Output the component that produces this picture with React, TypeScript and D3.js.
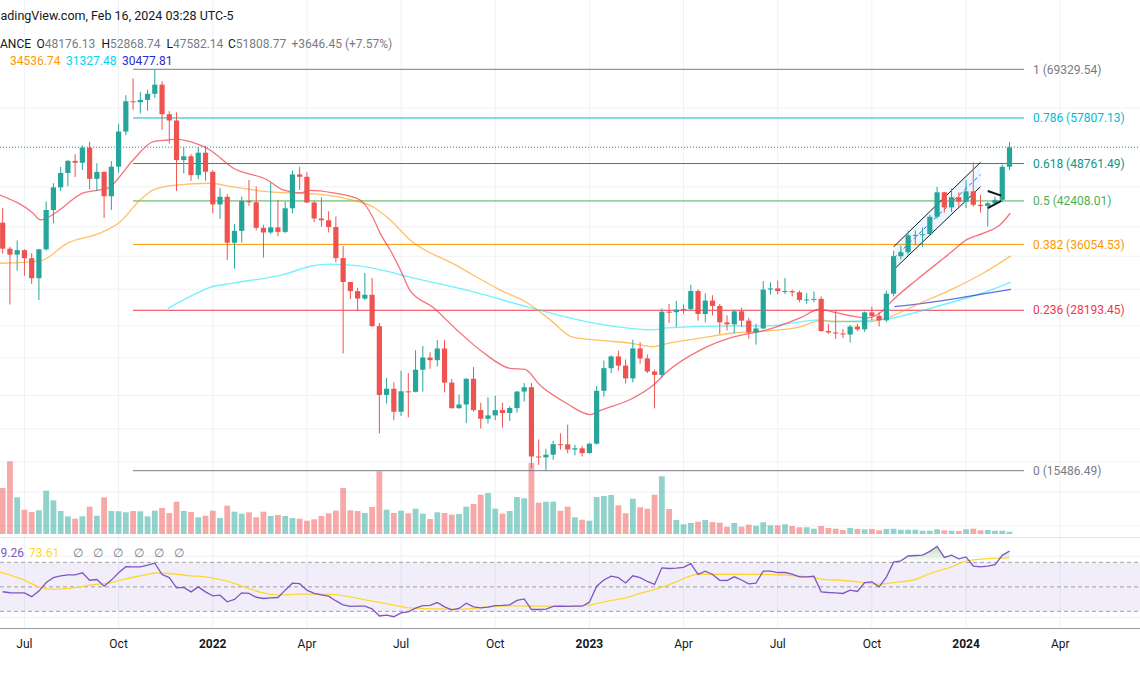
import React from "react";
import * as d3 from "d3";

// ---------- DATA ----------
const START = "2021-06-14"; // first weekly candle (Monday)
const OPEN = [39097,35483,34700,35288,34240,31778,35404,41000,44610,47081,49254,48900,51750,46060,47260,43160,48200,54950,61530,61310,61840,63270,65470,58620,57270,49400,50100,46700,50780,47290,41860,43070,36280,37920,42410,42200,38360,37700,38420,37780,41260,46820,46410,42160,39710,39450,38470,34260,31330,30280,29450,29870,26570,20550,21030,19300,20830,20790,22580,23630,23400,24440,21520,19560,19830,21830,19420,18800,19040,19420,19210,19570,20810,21150,16330,16280,16440,17100,17090,16760,16840,16540,17130,20870,22710,23730,22930,21860,24450,23550,22430,22150,28040,27990,28250,28330,30300,27800,29230,28650,26950,26750,28080,27120,25950,26340,30460,30590,30280,30290,30150,29300,29350,29420,26090,25950,25850,25750,26530,26250,27970,27600,27150,29990,34500,35010,37300,37360,37450,39970,43800,41400,43000,42280,43950,41800,41600,42050,42580,48176.13];
const HIGH = [41330,35750,36600,35400,34900,35450,42316,45310,48144,49382,50500,52200,52920,48840,47360,49230,56560,62930,67000,63710,64270,69330,66300,59270,59040,51800,50500,51870,52090,47570,44500,43510,38920,43100,45860,44750,38800,45400,42590,42330,47500,48190,47200,42420,42980,40800,40020,35830,31360,30650,32400,31800,26900,21900,21540,22500,22300,24280,24670,24100,25210,25210,21820,20580,21860,22800,19960,20380,20480,19950,19700,20860,21480,21480,17400,16810,17320,17800,18390,17060,16970,17180,21260,23370,23820,24250,23460,25250,25020,23900,22600,28400,28870,29200,28800,31000,30500,30040,29820,28860,27670,28260,28450,27400,26800,31430,31280,31500,31800,30450,30350,30050,30250,29690,26800,28140,26300,26700,26800,28060,28580,28000,30350,35200,35900,37970,37980,38400,40250,44700,43900,44400,43800,45880,48970,43400,42250,43100,48590,52868.74];
const LOW = [34817,28805,32711,32077,31108,29278,35205,39000,44000,44800,46350,47600,44300,44000,39800,41000,47100,54200,59600,58800,59400,62300,55300,52500,44000,47000,45700,46000,45700,40500,39650,34010,32920,36300,41640,38000,34320,37450,37160,37580,40470,44200,42110,39200,38540,37700,33710,24000,29400,28100,29300,26500,17800,19900,18700,19000,18900,20750,20800,22660,22860,20760,19520,19520,18510,19320,18130,18470,18700,18190,18650,19240,20050,15630,15820,15486.49,16130,16750,16530,16400,16330,16500,17080,20410,22290,22500,21450,21530,23100,22300,19550,21920,26900,26500,27800,28170,27120,26940,27660,25810,26140,25880,26500,25350,24800,26260,29900,29900,29950,29700,29050,28900,29050,26000,25800,25330,25400,25000,26100,26000,27160,26540,26960,29700,34080,34520,36000,35700,37200,39700,40600,40700,41500,41300,41500,40600,38550,41900,42260,47582.14];
const CLOSE = [35483,34700,35288,34240,31778,35404,41000,44610,47081,49254,48900,51750,46060,47260,43160,48200,54950,61530,61310,61840,63270,65470,58620,57270,49400,50100,46700,50780,47290,41860,43070,36280,37920,42410,42200,38360,37700,38420,37780,41260,46820,46410,42160,39710,39450,38470,34260,31330,30280,29450,29870,26570,20550,21030,19300,20830,20790,22580,23630,23400,24440,21520,19560,19830,21830,19420,18800,19040,19420,19210,19570,20810,21150,16330,16280,16440,17100,17090,16760,16840,16540,17130,20870,22710,23730,22930,21860,24450,23550,22430,22150,28040,27990,28250,28330,30300,27800,29230,28650,26950,26750,28080,27120,25950,26340,30460,30590,30280,30290,30150,29300,29350,29420,26090,25950,25850,25750,26530,26250,27970,27600,27150,29990,34500,35010,37300,37360,37450,39970,43800,41400,43000,42280,43950,41800,41600,42050,42580,48176.13,51808.77];
const VOLUME = [46,72.7,36.7,24.3,22,23.7,43.3,33.7,23,17.7,15.3,17.7,27.3,18.3,36.7,23,22.7,21.7,23,22.7,17.7,23.3,26,21,32.3,23,22,16.7,18.3,23.3,16,28.3,22.3,20.3,21.7,16.7,22.3,18,19,18,16,15.3,13.3,14.7,18,20.7,23.3,46,23.7,23,21,27,62.7,24.3,21,23.3,20.7,25.3,20.3,15,21.7,21,19.3,20,27.3,30,39.3,41,25.3,20.3,23,37,35.7,71,31.3,32.3,32.3,23.3,27.3,16.7,14.3,13.3,37,38,39,28.7,20.7,35.3,26.7,25.3,39.3,57.7,25,14,9.7,11,12.3,14,12,11.3,7.3,11,7.3,9.3,8.3,11.7,8.7,8.7,9.7,8,6.7,6.7,5.3,8,6,5.3,4,6,5,4.7,5,3.7,5,5.3,4.3,4.3,4.3,3.3,3.3,4.7,3.7,3.3,3,4.7,5.3,3.7,4,3.3,3.3,2.3];
const RSI = [46.0,45.2,45.1,45.1,42.0,46.5,53.5,57.5,59.0,59.8,59.8,61.5,55.4,56.0,50.5,55.5,61.5,66.5,66.3,66.3,67.7,69.3,60.0,57.6,49.2,49.5,45.9,50.0,45.9,42.6,43.2,37.8,39.7,45.1,44.6,41.5,40.5,41.0,41.3,47.3,53.0,52.6,47.3,44.6,43.5,42.4,38.5,35.3,34.0,34.2,34.2,32.0,26.2,26.9,25.6,28.8,29.6,32.6,34.6,34.8,37.2,33.7,31.2,32.4,36.7,33.7,32.9,33.5,34.7,34.8,35.3,39.0,40.2,31.5,31.5,31.8,34.0,34.2,34.0,34.3,34.2,37.5,50.5,55.6,58.8,57.5,53.2,59.0,57.5,54.4,52.0,65.5,65.0,65.3,65.9,69.0,60.2,62.8,60.1,55.4,55.2,58.2,55.6,52.5,53.0,62.8,62.8,61.7,61.7,60.3,58.2,58.2,58.7,45.9,45.4,45.1,44.6,47.3,46.2,53.5,54.1,50.0,58.0,70.2,71.2,75.2,75.6,75.9,79.0,83.0,74.0,75.9,72.8,74.4,67.0,66.3,67.0,68.1,75.7,79.26];
// [week index from START, value]
const RSI_MA: [number, number][] = [[-0.4,62.2],[0,61.5],[3,55.5],[5,50],[7,47.9],[10,49.3],[12,51.4],[15,53.5],[17,56.6],[20,60.1],[21,61.3],[23,60.9],[26,59],[28,58.2],[31,54.7],[34,48.6],[36,45],[38,43.2],[41,44],[45,44],[48,41.8],[51,38.3],[54,35],[56,32.9],[60,32],[62,31.8],[65,32.3],[67,33.7],[71,34.5],[75,34.2],[79,34.3],[81,35],[83,37.8],[86,41],[88,44.6],[90,47.8],[93,54.1],[95,59],[96,60.3],[101,60.3],[106,60.1],[108,59.5],[111,58.2],[113,56.3],[116,55.2],[118,54.1],[121,52.2],[123,53.5],[126,56],[128,60.9],[131,66.3],[133,71],[136,73.1],[139,73.61]];
const MA_RED: [number, number][] = [[-0.4,43360],[4.2,40500],[5.2,39500],[7.2,40500],[11.1,43700],[13.4,44200],[14.8,44600],[15.8,45900],[18,49400],[20.8,52900],[22.7,53240],[23.8,53400],[25.9,52900],[28.6,51300],[31.8,47960],[36.5,45900],[38.7,44200],[41.1,43700],[42.4,44100],[45.6,43700],[49.3,42600],[51.1,39900],[52.1,37600],[53.5,35300],[54.9,32800],[56.2,30400],[59.4,28500],[62.7,26200],[66.3,24100],[70,22700],[72.1,22600],[74.2,21300],[77.9,19900],[81.1,19100],[82.5,19400],[87,20300],[89.8,21300],[91.7,22400],[96.3,24300],[100.8,25500],[105.5,26200],[110.1,27400],[112.8,28300],[114.7,28000],[119.3,27400],[121.1,27900],[122.9,29300],[126.2,31600],[130.8,34900],[133.1,36700],[135.4,37600],[137.7,38800],[139.1,40500]];
const MA_ORANGE: [number, number][] = [[-0.4,33600],[5.2,33900],[8.9,36200],[13.4,37600],[16.2,39200],[19,42600],[20.8,44200],[23.8,45000],[28.6,45300],[31.8,44700],[36.5,43900],[39.7,43700],[43.4,43500],[45.6,43200],[48,42600],[51.1,41500],[53.5,39500],[56.2,36700],[62.5,33400],[68.7,30400],[72.4,29000],[75.6,27200],[78.7,25500],[82.5,25200],[87,24900],[89.8,24600],[91.7,24900],[96.3,25400],[100.8,25900],[105.5,26100],[110.1,26500],[112.8,27100],[119.3,27000],[122.1,27400],[126.2,28800],[130.8,30400],[135.4,32400],[139.2,34536.74]];
const MA_CYAN: [number, number][] = [[22.8,28400],[27.2,30200],[28.6,30700],[31.8,31200],[38.7,32200],[42.4,33200],[45.2,33500],[48.9,33300],[53.1,32600],[56.2,31900],[64.1,30400],[73.2,28400],[80.7,27000],[83.9,26600],[89.8,26200],[91.7,26400],[100.8,26600],[105.5,26600],[112.8,27200],[114.7,27000],[122.1,27300],[126.2,28000],[130.8,29000],[135.4,30100],[139.2,31327.48]];
const MA_BLUE: [number, number][] = [[123.1,28570],[128.5,29100],[133.1,29660],[139.2,30477.81]];

const FIB_RATIOS = ["1", "0.786", "0.618", "0.5", "0.382", "0.236", "0"];
const FIB_PRICES = [69329.54, 57807.13, 48761.49, 42408.01, 36054.53, 28193.45, 15486.49];
const FIB_RANGE = ["2021-10-18", "2024-02-26"];

const CHANNEL_DATES = ["2023-10-23", "2024-01-15"];
const CHANNEL_UPPER = [35740, 48990];
const CHANNEL_LOWER = [32800, 44720];
const WEDGE_DATES = ["2024-01-22", "2024-02-04"];
const WEDGE_UPPER = [44000, 43250];
const WEDGE_LOWER = [41300, 42400];

const TIME_TICKS = ["2021-07-05","2021-10-04","2022-01-03","2022-04-04","2022-07-04","2022-10-03","2023-01-02","2023-04-03","2023-07-03","2023-10-02","2024-01-01","2024-04-01"];
const TIME_LABELS = ["Jul","Oct","2022","Apr","Jul","Oct","2023","Apr","Jul","Oct","2024","Apr"];
const PRICE_GRID = [60000, 52000, 44700, 38500, 34500, 30500, 26600, 23600, 20500, 18100, 16000, 14300, 12600];
const RSI_LEVELS = [70, 50, 30];
const RSI_GRID = [75, 25];

// texts as visible in the (left-cropped) reference
const HEADER = "adingView.com, Feb 16, 2024 03:28 UTC-5";
const SYMBOL = "ANCE";
const OHLC_LABELS = ["O", "H", "L", "C"];
const OHLC_VALUES = ["48176.13", "52868.74", "47582.14", "51808.77"];
const CHANGE = "+3646.45 (+7.57%)";
const MA_VALUES = ["34536.74", "31327.48", "30477.81"];
const RSI_VALUES = ["9.26", "73.61"];

// ---------- STYLE ----------
const FONT = "Roboto, 'Noto Sans', Arial, sans-serif";
const UP = "#26a69a";
const DOWN = "#ef5350";
const FIB_COLORS = ["#787b86", "#00bcd4", "#089981", "#4caf50", "#ff9800", "#f23645", "#787b86"];
const MA_COLORS = ["#f23645", "#ff9800", "#00e5ff", "#2b2bd6"];

export default function App() {
  const W = 1140, H = 694;
  const t0 = new Date(START + "T00:00:00Z");
  const wk = (w: number) => new Date(t0.getTime() + w * 7 * 864e5);
  const dt = (s: string) => new Date(s + "T00:00:00Z");
  const n = CLOSE.length;

  const x = d3.scaleUtc().domain([t0, wk(n - 1)]).range([2.7, 1009.5]);
  const y = d3.scaleLog().domain([15486.49, 69329.54]).range([470.7, 69.3]);
  const vy = d3.scaleLinear().domain([0, d3.max(VOLUME) as number]).range([534, 461.3]);
  const ry = d3.scaleLinear().domain([0, 100]).range([648.1, 525.6]);

  const maLine = d3.line<[number, number]>().x((d) => x(wk(d[0]))).y((d) => y(d[1])).curve(d3.curveMonotoneX);
  const rsiLine = d3.line<number>().x((_, i) => x(wk(i))).y((d) => ry(d));
  const rsiMaLine = d3.line<[number, number]>().x((d) => x(wk(d[0]))).y((d) => ry(d[1])).curve(d3.curveMonotoneX);
  const rsiArea70 = d3.area<number>().x((_, i) => x(wk(i))).y0(ry(70)).y1((d) => ry(d));
  const rsiArea30 = d3.area<number>().x((_, i) => x(wk(i))).y0(ry(30)).y1((d) => ry(d));

  const bodyW = 5.2;
  const volW = 5.8;
  const axisY = 628.5;

  const fx0 = x(dt(FIB_RANGE[0]));
  const fx1 = x(dt(FIB_RANGE[1]));

  const cx0 = x(dt(CHANNEL_DATES[0]));
  const cx1 = x(dt(CHANNEL_DATES[1]));
  const cu0 = y(CHANNEL_UPPER[0]), cu1 = y(CHANNEL_UPPER[1]);
  const cl0 = y(CHANNEL_LOWER[0]), cl1 = y(CHANNEL_LOWER[1]);

  const wx0 = x(dt(WEDGE_DATES[0]));
  const wx1 = x(dt(WEDGE_DATES[1]));

  return (
    <svg width={W} height={H} style={{ position: "fixed", left: 0, top: 0, background: "#fff" }} fontFamily={FONT}>
      <defs>
        <clipPath id="mainClip"><rect x={0} y={0} width={W} height={537} /></clipPath>
        <clipPath id="rsiClip"><rect x={0} y={538} width={W} height={axisY - 538} /></clipPath>
        <clipPath id="obClip"><rect x={0} y={0} width={W} height={ry(70)} /></clipPath>
        <clipPath id="osClip"><rect x={0} y={ry(30)} width={W} height={H} /></clipPath>
        <linearGradient id="obGrad" gradientUnits="userSpaceOnUse" x1={0} y1={ry(100)} x2={0} y2={ry(70)}>
          <stop offset="0" stopColor="#4caf50" stopOpacity={0.85} />
          <stop offset="1" stopColor="#4caf50" stopOpacity={0} />
        </linearGradient>
        <linearGradient id="osGrad" gradientUnits="userSpaceOnUse" x1={0} y1={ry(0)} x2={0} y2={ry(30)}>
          <stop offset="0" stopColor="#f23645" stopOpacity={0.85} />
          <stop offset="1" stopColor="#f23645" stopOpacity={0} />
        </linearGradient>
      </defs>
      <rect x={0} y={0} width={W} height={H} fill="#ffffff" />

      {/* vertical grid */}
      {TIME_TICKS.map((t, i) => (
        <line key={"vg" + i} x1={x(dt(t))} x2={x(dt(t))} y1={0} y2={axisY} stroke="#eef1f6" strokeWidth={1} />
      ))}
      {/* horizontal grid main */}
      {PRICE_GRID.map((p, i) => (
        <line key={"hg" + i} x1={0} x2={W} y1={y(p)} y2={y(p)} stroke="#eef1f6" strokeWidth={1} />
      ))}
      {RSI_GRID.map((v, i) => (
        <line key={"rg" + i} x1={0} x2={W} y1={ry(v)} y2={ry(v)} stroke="#eef1f6" strokeWidth={1} />
      ))}

      <g clipPath="url(#mainClip)">
        {/* volume */}
        {VOLUME.map((v, i) => {
          const up = CLOSE[i] >= OPEN[i];
          const cx = x(wk(i));
          return (
            <rect key={"v" + i} x={cx - volW / 2} y={vy(v)} width={volW} height={vy(0) - vy(v)}
              fill={up ? UP : DOWN} fillOpacity={0.5} />
          );
        })}

        {/* fib levels */}
        {FIB_PRICES.map((p, i) => (
          <line key={"fib" + i} x1={fx0} x2={fx1} y1={y(p)} y2={y(p)} stroke={FIB_COLORS[i]} strokeWidth={1} />
        ))}

        {/* channel */}
        <path d={`M${cx0},${cu0}L${cx1},${cu1}L${cx1},${cl1}L${cx0},${cl0}Z`} fill="#2196f3" fillOpacity={0.08} />
        <line x1={cx0} y1={(cu0 + cl0) / 2} x2={cx1} y2={(cu1 + cl1) / 2} stroke="#2962ff" strokeWidth={1} strokeDasharray="4 3" />
        <line x1={cx0} y1={cu0} x2={cx1} y2={cu1} stroke="#131722" strokeWidth={1} />
        <line x1={cx0} y1={cl0} x2={cx1} y2={cl1} stroke="#131722" strokeWidth={1} />

        {/* MAs */}
        <path d={maLine(MA_CYAN) || ""} fill="none" stroke={MA_COLORS[2]} strokeOpacity={0.55} strokeWidth={1.4} />
        <path d={maLine(MA_BLUE) || ""} fill="none" stroke={MA_COLORS[3]} strokeOpacity={0.7} strokeWidth={1.3} />
        <path d={maLine(MA_ORANGE) || ""} fill="none" stroke={MA_COLORS[1]} strokeOpacity={0.6} strokeWidth={1.3} />
        <path d={maLine(MA_RED) || ""} fill="none" stroke={MA_COLORS[0]} strokeOpacity={0.7} strokeWidth={1.3} />

        {/* candles */}
        {CLOSE.map((c, i) => {
          const o = OPEN[i];
          const up = c >= o;
          const col = up ? UP : DOWN;
          const cx = x(wk(i));
          const top = y(Math.max(o, c));
          const bot = y(Math.min(o, c));
          return (
            <g key={"c" + i}>
              <line x1={cx} x2={cx} y1={y(HIGH[i])} y2={y(LOW[i])} stroke={col} strokeWidth={1} />
              <rect x={cx - bodyW / 2} y={top} width={bodyW} height={Math.max(1, bot - top)} fill={col} />
            </g>
          );
        })}

        {/* wedge */}
        <line x1={wx0} y1={y(WEDGE_UPPER[0])} x2={wx1} y2={y(WEDGE_UPPER[1])} stroke="#131722" strokeWidth={2} />
        <line x1={wx0} y1={y(WEDGE_LOWER[0])} x2={wx1} y2={y(WEDGE_LOWER[1])} stroke="#131722" strokeWidth={2} />

        {/* last price line */}
        <line x1={0} x2={W} y1={y(CLOSE[n - 1])} y2={y(CLOSE[n - 1])} stroke={UP} strokeWidth={1} strokeDasharray="1 2" />
      </g>

      {/* fib labels */}
      {FIB_PRICES.map((p, i) => (
        <text key={"fl" + i} x={1033} y={y(p)} dy="0.35em" fontSize={12} fill={FIB_COLORS[i]}>
          {FIB_RATIOS[i]} ({p.toFixed(2)})
        </text>
      ))}

      {/* pane separator */}
      <line x1={0} x2={W} y1={537.5} y2={537.5} stroke="#e0e3eb" strokeWidth={1} />

      {/* RSI pane */}
      <g clipPath="url(#rsiClip)">
        <rect x={0} y={ry(70)} width={W} height={ry(30) - ry(70)} fill="#7e57c2" fillOpacity={0.1} />
        {RSI_LEVELS.map((v, i) => (
          <line key={"rl" + i} x1={0} x2={W} y1={ry(v)} y2={ry(v)} stroke="#787b86" strokeOpacity={0.7} strokeWidth={1} strokeDasharray="4 3" />
        ))}
        <path d={rsiArea70(RSI) || ""} fill="url(#obGrad)" clipPath="url(#obClip)" />
        <path d={rsiArea30(RSI) || ""} fill="url(#osGrad)" clipPath="url(#osClip)" />
        <path d={rsiMaLine(RSI_MA) || ""} fill="none" stroke="#fdd835" strokeWidth={1.3} />
        <path d={rsiLine(RSI) || ""} fill="none" stroke="#7e57c2" strokeWidth={1.3} />
      </g>

      {/* time axis */}
      <line x1={0} x2={W} y1={axisY} y2={axisY} stroke="#9598a1" strokeWidth={1} />
      {TIME_TICKS.map((t, i) => (
        <text key={"tl" + i} x={x(dt(t))} y={648} textAnchor="middle" fontSize={12}
          fill="#131722" fontWeight={/^\d{4}$/.test(TIME_LABELS[i]) ? 700 : 400}>
          {TIME_LABELS[i]}
        </text>
      ))}

      {/* header legends */}
      <text x={0.5} y={20} fontSize={12.5} fill="#131722">{HEADER}</text>
      <text x={0} y={47.5} fontSize={12} fill="#131722">{SYMBOL}</text>
      {OHLC_LABELS.map((l, i) => {
        const xs = [36.5, 101.5, 166.5, 228];
        return (
          <text key={"oh" + i} x={xs[i]} y={47.5} fontSize={12}>
            <tspan fill="#131722">{l}</tspan>
            <tspan fill="#787b86">{OHLC_VALUES[i]}</tspan>
          </text>
        );
      })}
      <text x={291.5} y={47.5} fontSize={12} fill="#787b86">{CHANGE}</text>

      <text x={10} y={65} fontSize={12} fill={MA_COLORS[1]}>{MA_VALUES[0]}</text>
      <text x={66} y={65} fontSize={12} fill="#00d5ef">{MA_VALUES[1]}</text>
      <text x={122} y={65} fontSize={12} fill={MA_COLORS[3]}>{MA_VALUES[2]}</text>

      {/* RSI legend */}
      <text x={0.5} y={556.5} fontSize={12} fill="#7e57c2">{RSI_VALUES[0]}</text>
      <text x={29} y={556.5} fontSize={12} fill="#fdd835">{RSI_VALUES[1]}</text>
      {[72.7, 92.7, 113.3, 133.6, 153.8, 174.3].map((px, i) => (
        <text key={"na" + i} x={px} y={556.5} fontSize={12} fill="#787b86">∅</text>
      ))}
    </svg>
  );
}
